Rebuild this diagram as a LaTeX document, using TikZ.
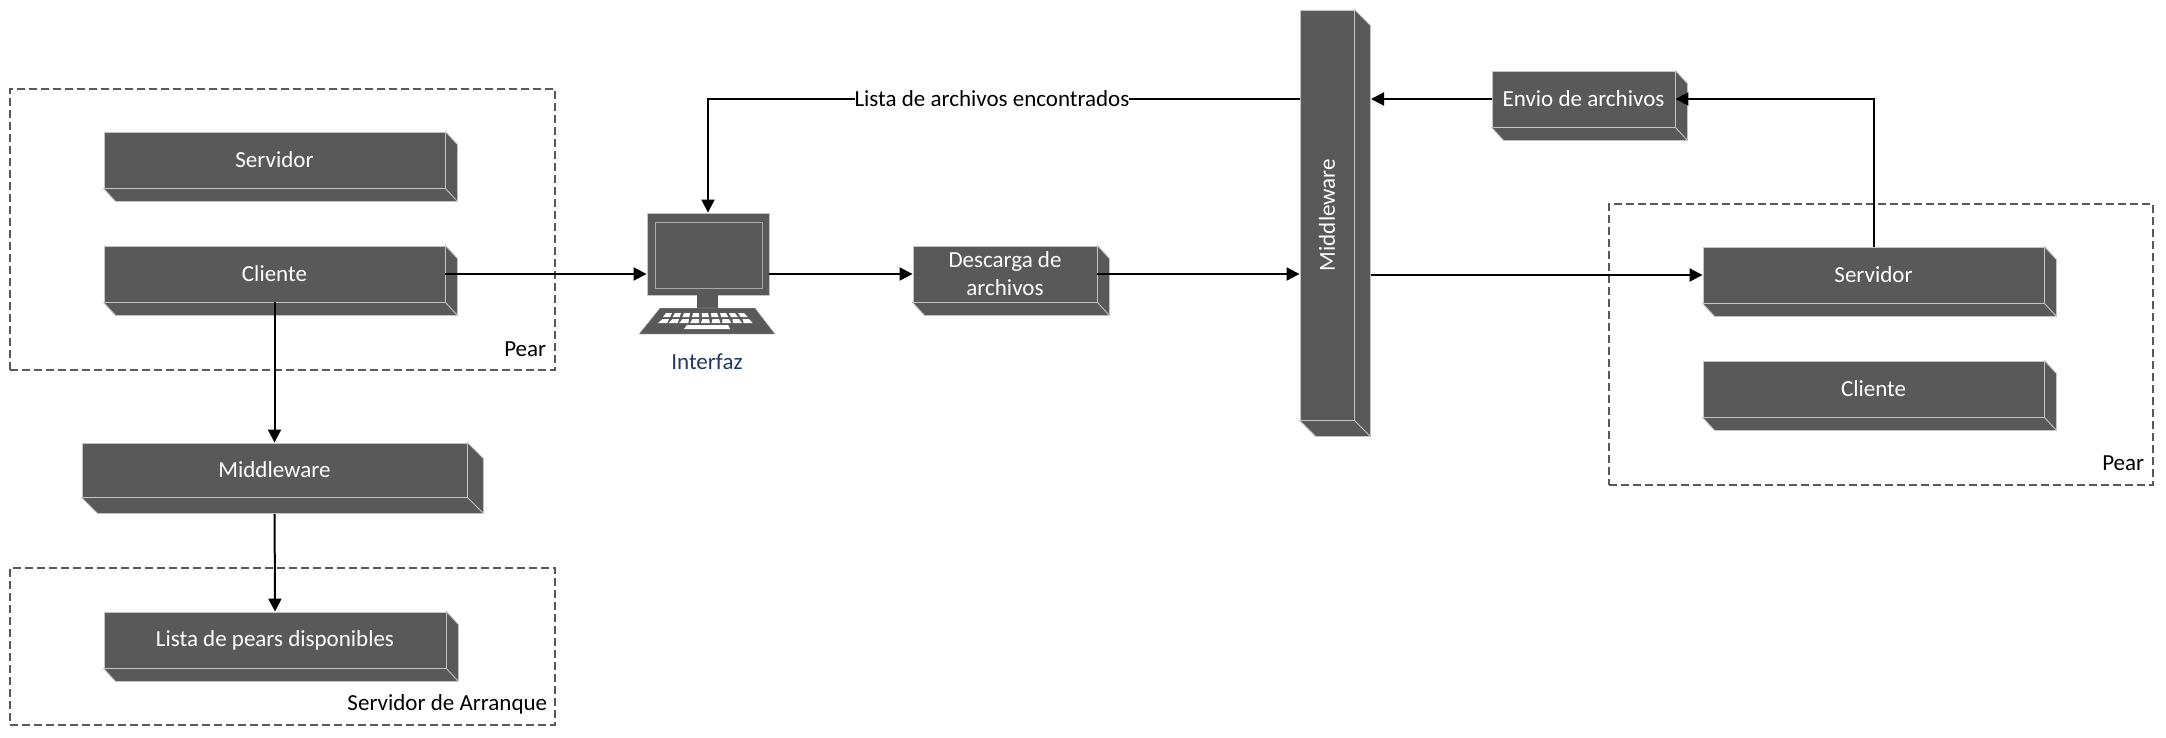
\documentclass[tikz,border=0pt]{standalone}
\usepackage{fontspec}
\setmainfont{Carlito}
\usetikzlibrary{arrows.meta,calc,positioning}
\definecolor{gris}{HTML}{595959}
\definecolor{borde}{HTML}{C4C4C4}
\definecolor{azul}{HTML}{1F3864}
\tikzset{
  letra/.style={font=\fontsize{11.5}{14}\selectfont},
  caja/.style 2 args={draw=borde, fill=gris, text=white, letra, align=center, inner sep=0pt,
    line width=0.45pt, minimum width=#1*0.5pt, minimum height=#2*0.5pt},
  marco/.style 2 args={draw=gris, dash pattern=on 4pt off 2pt, line width=0.55pt, inner sep=0pt,
    minimum width=#1*0.5pt, minimum height=#2*0.5pt},
  nota/.style={letra, inner sep=0pt, anchor=east},
  flecha/.style={draw=black, line width=1pt, -{Triangle[length=6.5pt,width=6.5pt]}}
}

\begin{document}
\begin{tikzpicture}[x=0.5pt, y=-0.5pt]
   \useasboundingbox (0,0) rectangle (2166,738);

   % marcos
   \node (pearA) [marco={545}{281}] at (282.5,229.5) {};
   \node (arranque) [marco={545}{157}] at (282.5,646.5) {};
   \node (pearB) [marco={544}{281}] at (1881,344.5) {};
   \node [nota] at ($(pearA.south east)+(-9,-21)$) {Pear};
   \node [nota] at ($(arranque.south east)+(-8,-21)$) {Servidor de Arranque};
   \node [nota] at ($(pearB.south east)+(-9,-22)$) {Pear};

   % cajas
   \node (srvA) [caja={341}{56}] at (274.5,160) {Servidor};
   \node (cliA) [caja={341}{56}] at (274.5,274) {Cliente};
   \node (mwA) [caja={385}{54}] at (274.5,470) {Middleware};
   \node (lista) [caja={342}{56}] at (275,640) {Lista de pears disponibles};
   \node (desc) [caja={184}{56}] at (1005,274) {Descarga de\\archivos};
   \node (mwB) [caja={54}{410}] at (1327,215) {\rotatebox{90}{Middleware}};
   \node (envio) [caja={183}{56}] at (1583.5,99) {Envio de archivos};
   \node (srvB) [caja={341}{56}] at (1873.5,275) {Servidor};
   \node (cliB) [caja={341}{56}] at (1873.5,389) {Cliente};

   % monitor
   \node (mon) [caja={122}{82}] at (708,254) {};
   \node (interfaz) [letra, text=azul, inner sep=0pt] at (707,362) {Interfaz};
   \draw [draw=borde!75!gris, line width=0.5pt] (655,222) rectangle (762,288);
   \fill [gris] (697,295) rectangle (718,308);
   \fill [gris, draw=borde, line width=0.2pt] (660,308) -- (755,308) -- (775,334) -- (639,334) -- cycle;
   \foreach \k in {0,...,8} {
     \fill [white] ({666+\k*9},313) -- ({672+\k*9},313) -- ({670+\k*9.7},317) -- ({663+\k*9.7},317) -- cycle;
     \fill [white] ({662.5+\k*10},319) -- ({669+\k*10},319) -- ({667+\k*10.7},323) -- ({658+\k*10.7},323) -- cycle;
   }
   \fill [white] (687,325) -- (728,325) -- (730,329) -- (684,329) -- cycle;

   % estas dos pasan por debajo de la cara lateral
   \draw [flecha] (mwA.south) -- (lista.north);
   \draw [flecha] (mwB.east |- srvB.west) -- (srvB.west);

   % caras laterales
   \foreach \n/\dx/\dy in {srvA/12/13, cliA/12/13, mwA/16/16, lista/12/13, desc/12/13, mwB/16/16, envio/12/13, srvB/12/13, cliB/12/13} {
     \draw [draw=borde, fill=gris, line width=0.45pt, line join=round]
       (\n.north east) -- ++(\dx,\dy) -- ($(\n.south east)+(\dx,\dy)$) -- ($(\n.south west)+(\dx,\dy)$)
       -- (\n.south west) -- (\n.south east) -- cycle;
     \draw [draw=borde, line width=0.45pt] (\n.south east) -- ++(\dx,\dy);
   }

   \coordinate (mwBlado) at (1371,99);
   \draw [flecha] (cliA.east) -- (cliA.east -| mon.west);
   \draw [flecha] (cliA.south) -- (mwA.north);
   \draw [flecha] (cliA.east -| mon.east) -- (desc.west);
   \draw [flecha] (desc.east) -- (desc.east -| mwB.west);
   \draw [flecha] (mwB.west |- envio.west) -- node [pos=0.52, fill=white, letra, inner sep=0pt] (lblArch) {Lista de archivos encontrados} (mon.north |- envio.west) -- (mon.north);
   \draw [flecha] (envio.west) -- (mwBlado);
   \draw [flecha] (srvB.north) |- (envio.east);
\end{tikzpicture}
\end{document}
